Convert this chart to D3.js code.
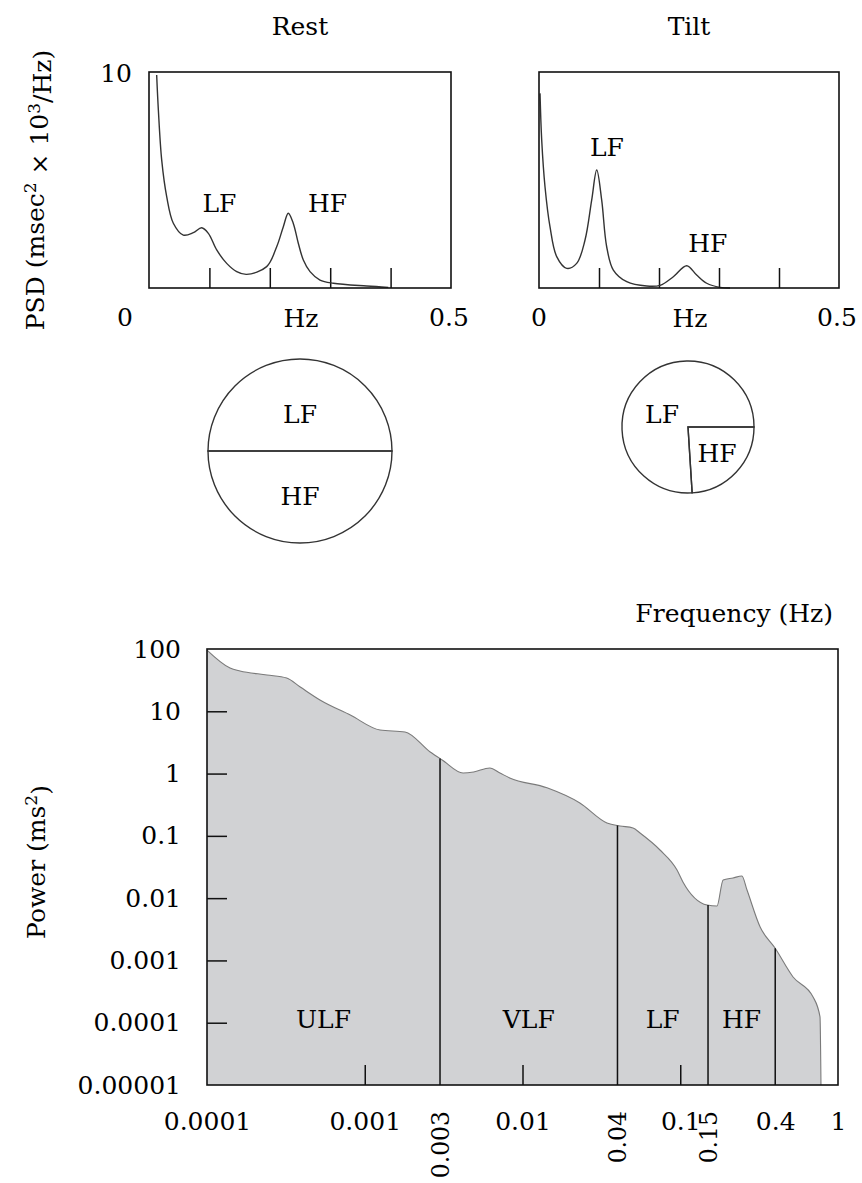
<!DOCTYPE html>
<html>
<head>
<meta charset="utf-8">
<script src="https://cdn.jsdelivr.net/npm/d3@7"></script>
<style>
  body { margin: 0; background: #fff; }
  svg { display: block; }
  text { font-family: "DejaVu Serif", serif; fill: #000; }
</style>
</head>
<body>
<svg id="chart"></svg>
<script>
// --- data ---
const psdTicks = [0.1, 0.2, 0.3, 0.4]

// Rest spectrum (Hz, msec^2 x 10^3/Hz)
const restFreq = [0.0127, 0.0155, 0.0210, 0.0293, 0.0403, 0.0568, 0.0734, 0.0872, 0.0983, 0.1121, 0.1286, 0.1452, 0.1617, 0.1948, 0.2114, 0.2224, 0.2306, 0.2389, 0.2472, 0.2555, 0.2666, 0.2831, 0.3052, 0.3604, 0.3962]
const restPsd = [9.86, 8.24, 5.93, 4.23, 3.00, 2.45, 2.56, 2.79, 2.53, 1.76, 1.14, 0.76, 0.63, 0.99, 1.91, 2.84, 3.46, 2.99, 2.07, 1.30, 0.76, 0.37, 0.22, 0.09, 0.03]

// Tilt spectrum
const tiltFreq = [0.0017, 0.0045, 0.010, 0.0183, 0.0295, 0.0462, 0.0628, 0.0767, 0.0878, 0.0962, 0.1045, 0.1128, 0.1239, 0.1462, 0.1795, 0.2017, 0.2239, 0.2462, 0.2628, 0.2795, 0.3017, 0.3183]
const tiltPsd = [9.01, 6.85, 4.69, 2.84, 1.45, 0.91, 1.14, 2.22, 4.07, 5.46, 4.07, 1.91, 0.83, 0.29, 0.09, 0.12, 0.52, 1.03, 0.60, 0.22, 0.03, 0]

// peak labels
const peakNames = ["LF", "HF"]
const restPeakFreq = [0.1165, 0.2955]
const restPeakPsd = [3.5, 3.5]
const tiltPeakFreq = [0.1133, 0.2815]
const tiltPeakPsd = [6.1, 1.65]

// pie shares and relative total power (circle area)
const pieNames = ["LF", "HF"]
const restShares = [0.5, 0.5]
const tiltShares = [0.76, 0.24]
const totalPower = [1, 0.515]

// long-term spectrum (Hz, ms^2)
const bandFreq = [0.0001, 0.00014, 0.000162, 0.00024, 0.00032, 0.00039, 0.00052, 0.00081, 0.00125, 0.0018, 0.0026, 0.0031, 0.0042, 0.0049, 0.0062, 0.0072, 0.0083, 0.0143, 0.0231, 0.0343, 0.0415, 0.0502, 0.0556, 0.0744, 0.0954, 0.104, 0.148, 0.171, 0.187, 0.216, 0.246, 0.265, 0.321, 0.399, 0.519, 0.695, 0.769, 0.78]
const bandPower = [96, 49.5, 44.4, 38.3, 34.2, 24.5, 15.2, 8.7, 5.0, 4.65, 2.22, 1.65, 1.02, 1.06, 1.23, 1.02, 0.85, 0.59, 0.337, 0.161, 0.144, 0.134, 0.111, 0.0593, 0.0283, 0.0182, 0.00776, 0.00748, 0.0196, 0.0211, 0.0227, 0.0135, 0.00344, 0.00158, 0.000542, 0.000259, 0.000124, 0.00001]
const bandBounds = [0.0001, 0.003, 0.04, 0.15, 0.4]
const bandNames = ["ULF", "VLF", "LF", "HF"]
const powerTicks = [100, 10, 1, 0.1, 0.01, 0.001, 0.0001, 0.00001]
const powerTickLabels = ["100", "10", "1", "0.1", "0.01", "0.001", "0.0001", "0.00001"]
const freqTicks = [0.0001, 0.001, 0.01, 0.1, 0.4, 1]
const freqTickLabels = ["0.0001", "0.001", "0.01", "0.1", "0.4", "1"]
const edgeTicks = [0.003, 0.04, 0.15]
const edgeTickLabels = ["0.003", "0.04", "0.15"]

const W = 862, H = 1183
const FS = "25px"

const svg = d3.select("#chart")
    .attr("width", W)
    .attr("height", H)

// ---------- top: two PSD panels ----------
function psdPanel(left, right, title, freq, psd, peakF, peakP, zeroShift) {
    const top = 72, bottom = 288
    const x = d3.scaleLinear().domain([0, 0.5]).range([left, right])
    const y = d3.scaleLinear().domain([0, 10]).range([bottom, top])
    const g = svg.append("g")

    g.append("text")
        .attr("x", (left + right) / 2)
        .attr("y", 35)
        .attr("text-anchor", "middle")
        .style("font-size", FS)
        .text(title)

    g.append("g")
        .attr("transform", "translate(0," + bottom + ")")
        .call(d3.axisBottom(x).tickValues(psdTicks).tickSize(-20).tickFormat(""))
        .call(a => a.select(".domain").remove())
        .selectAll("line").attr("stroke", "#111").attr("stroke-width", 1.5)

    const line = d3.line()
        .x((d, i) => x(freq[i]))
        .y(d => y(d))
        .curve(d3.curveCatmullRom.alpha(0.5))

    g.append("path")
        .attr("d", line(psd))
        .attr("fill", "none")
        .attr("stroke", "#333")
        .attr("stroke-width", 1.4)

    g.append("rect")
        .attr("x", left).attr("y", top)
        .attr("width", right - left).attr("height", bottom - top)
        .attr("fill", "none")
        .attr("stroke", "#111")
        .attr("stroke-width", 1.6)

    g.selectAll(".peak")
        .data(peakNames)
        .join("text")
        .attr("x", (d, i) => x(peakF[i]))
        .attr("y", (d, i) => y(peakP[i]))
        .attr("text-anchor", "middle")
        .style("font-size", FS)
        .text(d => d)

    // x labels
    g.append("text")
        .attr("x", x(0) - zeroShift).attr("y", 326)
        .attr("text-anchor", "middle")
        .style("font-size", FS)
        .text("0")
    g.append("text")
        .attr("x", x(0.25) + 1).attr("y", 327)
        .attr("text-anchor", "middle")
        .style("font-size", FS)
        .text("Hz")
    g.append("text")
        .attr("x", x(0.5) - 2).attr("y", 326)
        .attr("text-anchor", "middle")
        .style("font-size", FS)
        .text("0.5")
    return y
}

const yRest = psdPanel(149, 451, "Rest", restFreq, restPsd, restPeakFreq, restPeakPsd, 24)
psdPanel(539, 839, "Tilt", tiltFreq, tiltPsd, tiltPeakFreq, tiltPeakPsd, 0)

svg.append("text")
    .attr("x", 132).attr("y", yRest(10) + 10)
    .attr("text-anchor", "end")
    .style("font-size", FS)
    .text("10")

const psdLabel = svg.append("text")
    .attr("transform", "translate(44,190) rotate(-90)")
    .attr("text-anchor", "middle")
    .style("font-size", FS)
psdLabel.append("tspan").text("PSD (msec")
psdLabel.append("tspan").attr("dy", "-0.45em").style("font-size", "17px").text("2")
psdLabel.append("tspan").attr("dy", "0.45em").text(" \u00d7 10")
psdLabel.append("tspan").attr("dy", "-0.45em").style("font-size", "17px").text("3")
psdLabel.append("tspan").attr("dy", "0.45em").text("/Hz)")

// ---------- middle: pie circles ----------
const rScale = d3.scaleSqrt().domain([0, 1]).range([0, 92])

function pieCircle(cx, cy, shares, total, startAngle, labelPos) {
    const r = rScale(total)
    const pie = d3.pie().sort(null).startAngle(startAngle).endAngle(startAngle + 2 * Math.PI)
    const arc = d3.arc().innerRadius(0).outerRadius(r)
    const g = svg.append("g").attr("transform", "translate(" + cx + "," + cy + ")")
    g.selectAll("path")
        .data(pie(shares))
        .join("path")
        .attr("d", arc)
        .attr("fill", "none")
        .attr("stroke", "#333")
        .attr("stroke-width", 1.4)
    g.selectAll("text")
        .data(pieNames)
        .join("text")
        .attr("x", (d, i) => labelPos[i][0])
        .attr("y", (d, i) => labelPos[i][1])
        .attr("text-anchor", "middle")
        .style("font-size", FS)
        .text(d => d)
}

pieCircle(300, 451, restShares, totalPower[0], -Math.PI / 2, [[0, -28], [0, 54]])
// tilt: HF wedge starts at 3 o'clock, so order the shares HF-first from there
pieCircle(688, 427, [tiltShares[1], tiltShares[0]], totalPower[1], Math.PI / 2, [[-26, -4], [29, 35]])

// ---------- bottom: long-term spectrum ----------
const bx0 = 207, bx1 = 838, by0 = 649, by1 = 1085
const xB = d3.scaleLog().domain([0.0001, 1]).range([bx0, bx1])
const yB = d3.scaleLog().domain([0.00001, 100]).range([by1, by0])

const pts = bandFreq.map((f, i) => [f, bandPower[i]])

const area = d3.area()
    .x(d => xB(d[0]))
    .y0(by1)
    .y1(d => yB(d[1]))
    .curve(d3.curveMonotoneX)
svg.append("path")
    .attr("d", area(pts))
    .attr("fill", "#d1d2d4")

svg.append("path")
    .attr("d", d3.line().x(d => xB(d[0])).y(d => yB(d[1])).curve(d3.curveMonotoneX)(pts))
    .attr("fill", "none")
    .attr("stroke", "#7a7a7a")
    .attr("stroke-width", 1.1)

// power at a band edge, interpolated in log-log space from the data
function powerAt(f) {
    const i = d3.bisector(d => d).right(bandFreq, f)
    const f0 = bandFreq[i - 1], f1 = bandFreq[i]
    const t = (Math.log(f) - Math.log(f0)) / (Math.log(f1) - Math.log(f0))
    return Math.exp(Math.log(bandPower[i - 1]) + t * (Math.log(bandPower[i]) - Math.log(bandPower[i - 1])))
}

svg.selectAll(".edge")
    .data(bandBounds.slice(1))
    .join("line")
    .attr("class", "edge")
    .attr("x1", d => xB(d)).attr("x2", d => xB(d))
    .attr("y1", by1).attr("y2", d => yB(powerAt(d)))
    .attr("stroke", "#111")
    .attr("stroke-width", 1.5)

svg.selectAll(".band")
    .data(bandNames)
    .join("text")
    .attr("class", "band")
    .attr("x", (d, i) => xB(Math.sqrt(bandBounds[i] * bandBounds[i + 1])))
    .attr("y", 1028)
    .attr("text-anchor", "middle")
    .style("font-size", FS)
    .text(d => d)

// inner ticks
svg.append("g")
    .attr("transform", "translate(0," + by1 + ")")
    .call(d3.axisBottom(xB).tickValues([0.001, 0.01, 0.1]).tickSize(-20).tickFormat(""))
    .call(a => a.select(".domain").remove())
    .selectAll("line").attr("stroke", "#111").attr("stroke-width", 1.5)

svg.append("g")
    .attr("transform", "translate(" + bx0 + ",0)")
    .call(d3.axisLeft(yB).tickValues(powerTicks.slice(1, -1)).tickSize(-20).tickFormat(""))
    .call(a => a.select(".domain").remove())
    .selectAll("line").attr("stroke", "#111").attr("stroke-width", 1.5)

// y labels
svg.append("g")
    .attr("transform", "translate(" + bx0 + ",0)")
    .call(d3.axisLeft(yB).tickValues(powerTicks).tickSize(0).tickPadding(26)
        .tickFormat((d, i) => powerTickLabels[i]))
    .call(a => a.select(".domain").remove())
    .selectAll("text")
    .attr("fill", "#000")
    .style("font-family", "DejaVu Serif, serif")
    .style("font-size", FS)

// x labels
svg.append("g")
    .attr("transform", "translate(0," + by1 + ")")
    .call(d3.axisBottom(xB).tickValues(freqTicks).tickSize(0).tickPadding(27)
        .tickFormat((d, i) => freqTickLabels[i]))
    .call(a => a.select(".domain").remove())
    .selectAll("text")
    .attr("fill", "#000")
    .style("font-family", "DejaVu Serif, serif")
    .style("font-size", FS)

svg.selectAll(".edgeLabel")
    .data(edgeTicks)
    .join("text")
    .attr("class", "edgeLabel")
    .attr("transform", d => "translate(" + (xB(d) + 9) + ",1111) rotate(-90)")
    .attr("text-anchor", "end")
    .style("font-size", "23.5px")
    .text((d, i) => edgeTickLabels[i])

svg.append("rect")
    .attr("x", bx0).attr("y", by0)
    .attr("width", bx1 - bx0).attr("height", by1 - by0)
    .attr("fill", "none")
    .attr("stroke", "#111")
    .attr("stroke-width", 1.6)

svg.append("text")
    .attr("x", 833).attr("y", 622)
    .attr("text-anchor", "end")
    .style("font-size", FS)
    .text("Frequency (Hz)")

const powLabel = svg.append("text")
    .attr("transform", "translate(45,862) rotate(-90)")
    .attr("text-anchor", "middle")
    .style("font-size", FS)
powLabel.append("tspan").text("Power (ms")
powLabel.append("tspan").attr("dy", "-0.45em").style("font-size", "17px").text("2")
powLabel.append("tspan").attr("dy", "0.45em").text(")")
</script>
</body>
</html>
